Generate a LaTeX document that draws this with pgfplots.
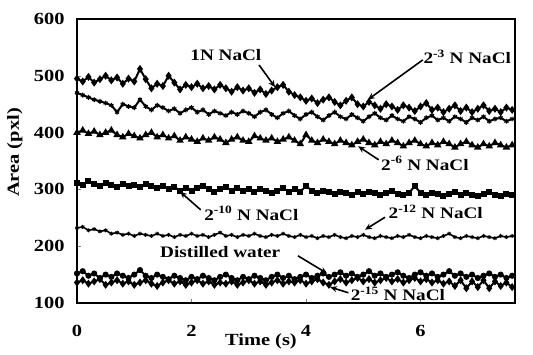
\documentclass[border=0pt]{standalone}
\usepackage{fontspec}
\setmainfont{Liberation Serif}[FakeStretch=1.2]
\usepackage{pgfplots}
\pgfplotsset{compat=1.18}
\usepackage{pgfplotstable}
\usetikzlibrary{arrows.meta}
\tikzset{ann/.style={font=\fontsize{16}{16}\selectfont\bfseries, inner sep=0pt},
         arr/.style={-{Stealth[length=7pt,width=6pt]}, line width=1.6pt}}
\pgfplotstableread{
t n1 n3 n6 n10 n12 dw n15
0.0 495 470 400 312 232 152 136
0.1 490 466 404 308 234 156 140
0.2 498 462 398 314 228 148 134
0.3 488 458 402 310 230 152 138
0.4 494 455 396 306 226 144 142
0.5 500 452 400 312 228 150 132
0.6 492 448 404 308 222 146 136
0.7 497 436 396 304 224 152 140
0.8 486 450 392 310 220 148 134
0.9 495 446 398 306 222 144 138
1.0 490 444 394 308 218 150 132
1.1 512 458 390 304 222 158 136
1.2 494 446 396 310 220 148 140
1.3 478 440 400 306 218 144 134
1.4 486 448 392 302 222 150 130
1.5 482 444 396 306 218 146 136
1.6 500 438 390 300 220 142 140
1.7 488 442 394 304 216 148 134
1.8 476 434 386 298 220 144 138
1.9 484 440 392 302 218 140 132
2.0 480 444 388 298 222 146 136
2.1 486 436 384 302 218 142 140
2.2 478 440 390 306 220 148 134
2.3 482 432 386 300 216 144 138
2.4 476 438 392 296 220 140 132
2.5 484 434 388 300 224 146 136
2.6 478 430 382 304 218 150 134
2.7 472 436 388 298 220 144 138
2.8 480 432 392 302 216 140 132
2.9 474 438 386 298 220 146 136
3.0 478 434 384 300 218 142 140
3.1 470 428 394 296 222 148 134
3.2 476 436 390 300 218 144 138
3.3 468 440 386 298 216 140 132
3.4 474 432 390 294 220 146 136
3.5 480 426 384 298 218 150 140
3.6 484 434 388 302 222 144 134
3.7 472 438 392 296 218 148 138
3.8 466 430 386 300 216 142 136
3.9 462 424 380 296 220 146 140
4.0 456 432 396 306 216 150 134
4.1 460 436 386 298 218 144 138
4.2 452 428 382 294 214 148 142
4.3 458 422 388 298 218 152 136
4.4 462 430 384 296 216 146 132
4.5 454 436 380 292 220 150 138
4.6 448 428 386 296 216 154 142
4.7 456 424 382 294 214 148 136
4.8 462 432 378 290 218 152 140
4.9 450 426 384 296 216 146 144
5.0 446 420 388 292 220 150 138
5.1 454 428 382 296 216 156 142
5.2 448 434 378 294 214 148 136
5.3 442 426 384 290 218 152 140
5.4 450 422 380 294 216 146 144
5.5 446 430 386 298 214 150 138
5.6 440 424 382 292 218 154 142
5.7 448 420 376 290 216 148 136
5.8 444 428 382 294 220 144 140
5.9 438 424 386 306 216 150 144
6.0 446 418 380 294 214 154 138
6.1 452 426 376 290 218 148 142
6.2 440 430 382 294 216 152 136
6.3 444 422 378 292 214 146 140
6.4 436 426 384 288 218 150 134
6.5 442 420 380 292 222 156 138
6.6 448 428 374 296 216 148 130
6.7 438 424 380 290 214 152 140
6.8 444 418 384 294 218 146 126
6.9 436 426 378 290 216 150 138
7.0 442 422 374 288 214 144 128
7.1 448 428 380 292 218 148 140
7.2 438 420 376 296 216 152 126
7.3 442 424 382 290 214 146 138
7.4 436 426 378 288 218 150 130
7.5 444 420 374 292 216 144 136
7.6 440 424 378 290 218 148 128
}\datatable
\begin{document}
\begin{tikzpicture}
\path (0,0) rectangle (533pt,355pt);
\begin{axis}[
  at={(77pt,52pt)}, anchor=south west,
  scale only axis, width=438pt, height=284pt,
  xmin=0, xmax=7.65, ymin=100, ymax=600,
  xtick={0,2,4,6}, xticklabels={0,2,4,6},
  ytick={100,200,300,400,500,600}, yticklabels={100,200,300,400,500,600},
  tick pos=left, tick align=inside,
  ticklabel style={font=\fontsize{17}{17}\selectfont\bfseries},
  xticklabel style={yshift=-19pt},
  yticklabel style={xshift=-9pt},
  xlabel={Time (s)}, ylabel={Area (pxl)},
  label style={font=\fontsize{17}{17}\selectfont\bfseries},
  xlabel style={at={(axis description cs:0.42,-0.134)}, anchor=center},
  ylabel style={at={(axis description cs:-0.142,0.53)}, anchor=center},
  every axis plot/.append style={black, line width=2pt, mark size=2.4pt},
]
\addplot[mark=diamond*] table[x=t,y=n1] {\datatable};
\addplot[mark=asterisk, mark options={line width=1.2pt}] table[x=t,y=n3] {\datatable};
\addplot[mark=triangle*] table[x=t,y=n6] {\datatable};
\addplot[mark=square*, mark size=2pt] table[x=t,y=n10] {\datatable};
\addplot[mark=asterisk, line width=1.6pt, mark size=2pt, mark options={line width=1pt}] table[x=t,y=n12] {\datatable};
\addplot[mark=*, mark size=2pt] table[x=t,y=dw] {\datatable};
\addplot[mark=diamond*] table[x=t,y=n15] {\datatable};
\node[ann] at (axis cs:2.6,537) {1N NaCl};
\draw[arr] (axis cs:3.18,519) -- (axis cs:3.46,480);
\node[ann, anchor=west] at (axis cs:6.05,533) {2\textsuperscript{-3} N NaCl};
\draw[arr] (axis cs:6.04,528) -- (axis cs:5.08,458);
\node[ann, anchor=west] at (axis cs:5.31,346) {2\textsuperscript{-6} N NaCl};
\draw[arr] (axis cs:5.27,352) -- (axis cs:4.91,376);
\node[ann, anchor=west] at (axis cs:2.22,258) {2\textsuperscript{-10} N NaCl};
\draw[arr] (axis cs:2.16,264) -- (axis cs:1.80,296);
\node[ann, anchor=west] at (axis cs:5.44,260) {2\textsuperscript{-12} N NaCl};
\draw[arr] (axis cs:5.38,251) -- (axis cs:5.03,229);
\node[ann, anchor=west] at (axis cs:1.45,190) {Distilled water};
\draw[arr] (axis cs:3.86,183) -- (axis cs:4.37,152);
\node[ann, anchor=west] at (axis cs:4.78,116) {2\textsuperscript{-15} N NaCl};
\draw[arr] (axis cs:4.74,118) -- (axis cs:4.42,128);
\end{axis}
\fill[black] (76.2pt,51.2pt) rectangle (515.8pt,52.8pt);
\fill[black] (76.2pt,335.2pt) rectangle (515.8pt,336.8pt);
\fill[black] (76.2pt,51.2pt) rectangle (77.8pt,336.8pt);
\fill[black] (514.2pt,51.2pt) rectangle (515.8pt,336.8pt);
\end{tikzpicture}
\end{document}
